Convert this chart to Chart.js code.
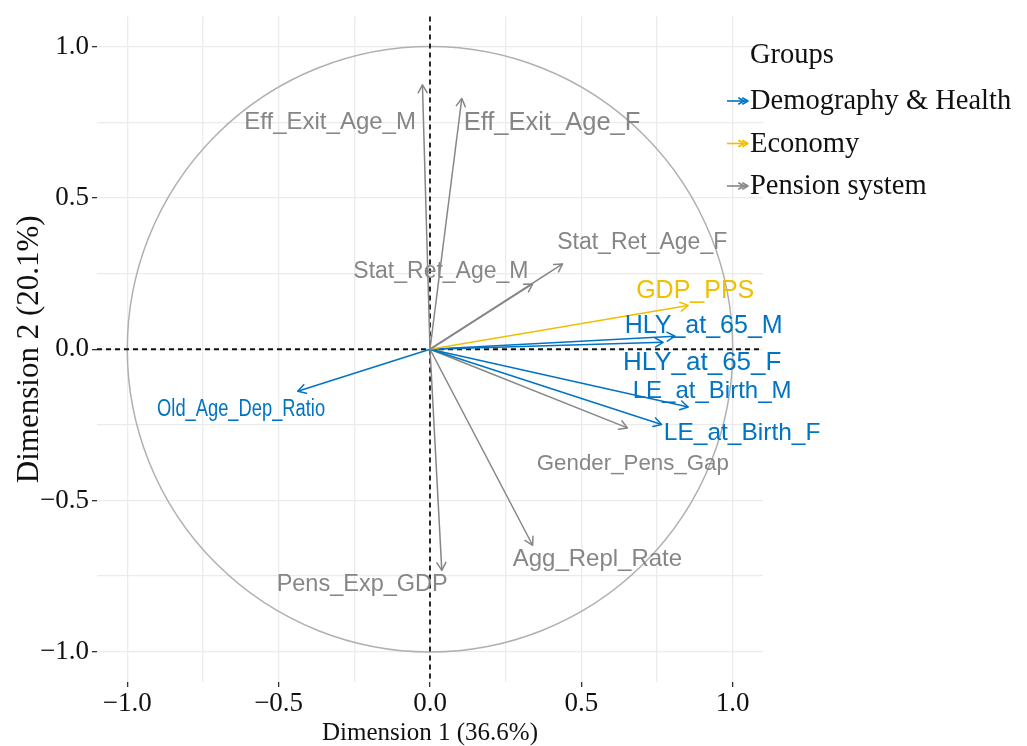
<!DOCTYPE html>
<html>
<head>
  <meta charset="UTF-8">
  <title>PCA variables</title>
  <script src="https://cdn.jsdelivr.net/npm/chart.js"></script>
  <style>
    body { margin: 0; background: #fff; }
    #wrap { width: 1027px; height: 746px; }
  </style>
</head>
<body>
  <div id="wrap"><canvas id="pca"></canvas></div>

  <script>
    // variables and their coordinates on the first two dimensions
    const varNames = ["Eff_Exit_Age_M", "Eff_Exit_Age_F", "Stat_Ret_Age_M", "Stat_Ret_Age_F", "GDP_PPS",
      "HLY_at_65_M", "HLY_at_65_F", "LE_at_Birth_M", "LE_at_Birth_F", "Gender_Pens_Gap",
      "Agg_Repl_Rate", "Pens_Exp_GDP", "Old_Age_Dep_Ratio"];
    const dim1 = [-0.025, 0.105, 0.339, 0.438, 0.853, 0.809, 0.770, 0.853, 0.765, 0.652, 0.339, 0.039, -0.437];
    const dim2 = [0.874, 0.829, 0.216, 0.282, 0.145, 0.043, 0.023, -0.191, -0.249, -0.260, -0.648, -0.731, -0.139];
    const varGroup = [2, 2, 2, 2, 1, 0, 0, 0, 0, 2, 2, 2, 0];
    const groupNames = ["Demography & Health", "Economy", "Pension system"];

    const tickValues = [-1, -0.5, 0, 0.5, 1];
    const tickLabels = ["\u22121.0", "\u22120.5", "0.0", "0.5", "1.0"];
    const gridValues = [-1, -0.75, -0.5, -0.25, 0, 0.25, 0.5, 0.75, 1];

    // where the repelled labels sit (data units) and how big they are
    const labelX = [-0.330, 0.403, 0.036, 0.701, 0.876, 0.904, 0.899, 0.932, 1.031, 0.670, 0.553, -0.224, -0.624];
    const labelY = [0.749, 0.749, 0.257, 0.353, 0.191, 0.076, -0.046, -0.139, -0.277, -0.380, -0.693, -0.779, -0.198];
    const labelSize = [24, 25.5, 23, 23, 25, 25, 26, 24, 24.5, 22.3, 24, 23.5, 23.5];
    const labelMaxW = [null, null, null, null, null, null, null, null, null, null, null, null, 168];

    const groupColors = ["#0073C2", "#EFC000", "#868686"];
    const serif = "'Liberation Serif', 'Times New Roman', serif";
    const sans = "'Liberation Sans', Arial, sans-serif";

    const datasets = varNames.map((name, i) => ({
      label: name,
      data: [{ x: 0, y: 0 }, { x: dim1[i], y: dim2[i] }],
      showLine: true,
      borderColor: groupColors[varGroup[i]],
      borderWidth: 1.5,
      pointRadius: 0,
      pointHoverRadius: 0
    }));

    function arrowHead(ctx, x0, y0, x1, y1, len, color, width) {
      const a = Math.atan2(y1 - y0, x1 - x0);
      const spread = Math.PI / 6;
      ctx.save();
      ctx.strokeStyle = color;
      ctx.lineWidth = width;
      ctx.lineCap = "round";
      ctx.lineJoin = "round";
      ctx.beginPath();
      ctx.moveTo(x1 - len * Math.cos(a - spread), y1 - len * Math.sin(a - spread));
      ctx.lineTo(x1, y1);
      ctx.lineTo(x1 - len * Math.cos(a + spread), y1 - len * Math.sin(a + spread));
      ctx.stroke();
      ctx.restore();
    }

    const pcaPlugin = {
      id: "pcaDecor",
      beforeDatasetsDraw(chart) {
        const { ctx, chartArea: area, scales: { x, y } } = chart;
        const cx = x.getPixelForValue(0), cy = y.getPixelForValue(0);
        const r = x.getPixelForValue(1) - cx;
        ctx.save();
        ctx.beginPath();
        ctx.arc(cx, cy, r, 0, Math.PI * 2);
        ctx.strokeStyle = "#b0b0b0";
        ctx.lineWidth = 1.5;
        ctx.stroke();
        ctx.setLineDash([5, 4]);
        ctx.strokeStyle = "#111";
        ctx.lineWidth = 1.8;
        ctx.beginPath();
        ctx.moveTo(area.left, cy); ctx.lineTo(area.right, cy);
        ctx.moveTo(cx, area.top); ctx.lineTo(cx, area.bottom);
        ctx.stroke();
        ctx.restore();
      },
      afterDatasetsDraw(chart) {
        const { ctx, scales: { x, y } } = chart;
        chart.data.datasets.forEach((ds, i) => {
          const pts = chart.getDatasetMeta(i).data;
          arrowHead(ctx, pts[0].x, pts[0].y, pts[1].x, pts[1].y, 9, ds.borderColor, 1.5);
        });
        // variable labels
        ctx.save();
        ctx.textAlign = "center";
        ctx.textBaseline = "middle";
        varNames.forEach((name, i) => {
          ctx.font = labelSize[i] + "px " + sans;
          ctx.fillStyle = groupColors[varGroup[i]];
          const px = x.getPixelForValue(labelX[i]), py = y.getPixelForValue(labelY[i]);
          if (labelMaxW[i]) ctx.fillText(name, px, py, labelMaxW[i]);
          else ctx.fillText(name, px, py);
        });
        ctx.restore();
      },
      afterDraw(chart) {
        // legend, tucked against the right edge of the panel
        const { ctx, chartArea: area } = chart;
        const lx = area.right;
        ctx.save();
        ctx.fillStyle = "#111";
        ctx.textAlign = "left";
        ctx.textBaseline = "middle";
        ctx.font = "28.5px " + serif;
        ctx.fillText("Groups", lx - 13, 56);
        groupNames.forEach((g, i) => {
          const gy = 101 + i * 42.5;
          ctx.strokeStyle = groupColors[i];
          ctx.lineWidth = 1.6;
          ctx.beginPath();
          ctx.moveTo(lx - 36, gy); ctx.lineTo(lx - 15, gy);
          ctx.stroke();
          arrowHead(ctx, lx - 36, gy, lx - 15, gy, 6, groupColors[i], 1.6);
          arrowHead(ctx, lx - 36, gy, lx - 19, gy, 6, groupColors[i], 1.6);
          ctx.fillStyle = "#111";
          ctx.fillText(g, lx - 13, gy + 1);
        });
        ctx.restore();
      }
    };

    function axis(titleText, isX) {
      return {
        type: "linear",
        min: -1.1,
        max: 1.1,
        afterBuildTicks: (scale) => { scale.ticks = gridValues.map(v => ({ value: v })); },
        afterFit: (scale) => {
          if (isX) scale.height = 64; else scale.width = 97;
        },
        border: { display: false },
        grid: {
          color: "#ebebeb",
          lineWidth: 1.3,
          drawTicks: true,
          tickLength: 5,
          tickWidth: 1.3,
          tickColor: (c) => tickValues.includes(c.tick.value) ? "#333" : "rgba(0,0,0,0)"
        },
        ticks: {
          autoSkip: false,
          maxRotation: 0,
          padding: isX ? 3 : 3,
          color: "#111",
          font: { family: serif, size: 27, lineHeight: 1 },
          callback: (v) => {
            const k = tickValues.indexOf(v);
            return k >= 0 ? tickLabels[k] : "";
          }
        },
        title: {
          display: true,
          text: titleText,
          color: "#111",
          font: { family: serif, size: isX ? 25 : 31, lineHeight: 1 },
          padding: isX ? { top: 0, bottom: 0.5 } : { top: 14.5, bottom: 0 }
        }
      };
    }

    new Chart(document.getElementById("pca").getContext("2d"), {
      type: "scatter",
      data: { datasets: datasets },
      options: {
        responsive: true,
        maintainAspectRatio: false,
        animation: false,
        layout: { padding: { top: 15, right: 264, left: 0, bottom: 0 } },
        plugins: {
          legend: { display: false },
          tooltip: { enabled: false }
        },
        scales: {
          x: axis("Dimension 1 (36.6%)", true),
          y: axis("Dimension 2 (20.1%)", false)
        }
      },
      plugins: [pcaPlugin]
    });
  </script>
</body>
</html>
